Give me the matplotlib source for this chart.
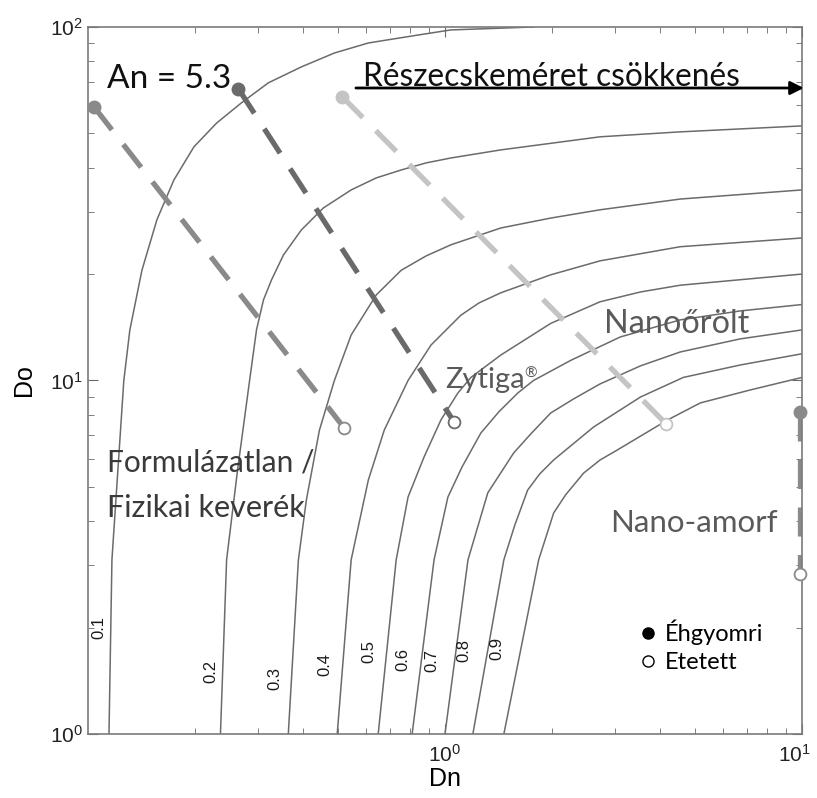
import matplotlib
matplotlib.use("Agg")
import matplotlib.pyplot as plt
import matplotlib.transforms as mtransforms
from matplotlib.lines import Line2D

plt.rcParams['font.family'] = ['Liberation Sans', 'DejaVu Sans']
plt.rcParams['mathtext.fontset'] = 'custom'
plt.rcParams['mathtext.rm'] = 'Liberation Sans'
plt.rcParams['mathtext.default'] = 'regular'

# fraction absorbed contours, An = 5.3 (Dn, Do pairs along each line)
f01_dn = [0.1145, 0.1167, 0.126, 0.131, 0.1416, 0.156, 0.174, 0.198, 0.2293, 0.269, 0.320,
          0.396, 0.490, 0.610, 0.841, 1.039, 1.345, 1.77]
f01_do = [1.0, 3.11, 10.0, 13.9, 20.5, 28.5, 36.9, 45.8, 53.5, 61.0, 69.5,
          77.1, 84.4, 90.1, 94.9, 98.1, 99.0, 100.0]

f02_dn = [0.235, 0.2445, 0.2624, 0.2836, 0.2965, 0.3101, 0.3266, 0.3528, 0.396, 0.4563, 0.546,
          0.6418, 0.754, 0.8847, 1.039, 1.433, 2.72, 4.56, 10.0]
f02_do = [1.0, 3.11, 5.58, 10.0, 13.9, 16.9, 19.25, 22.65, 26.66, 30.76, 34.6,
          37.41, 39.4, 41.25, 42.6, 44.9, 48.9, 50.5, 52.5]

f03_dn = [0.364, 0.3885, 0.409, 0.445, 0.490, 0.546, 0.642, 0.754, 0.8847, 1.039, 1.433,
          1.977, 2.72, 4.56, 10.0]
f03_do = [1.0, 3.11, 4.59, 7.24, 10.0, 13.45, 17.46, 20.5, 22.5, 24.2, 27.0,
          28.8, 30.4, 32.6, 34.6]

f04_dn = [0.499, 0.546, 0.610, 0.676, 0.788, 0.914, 1.108, 1.245, 1.433, 1.977, 2.72, 4.56, 10.0]
f04_do = [1.0, 3.11, 5.23, 7.24, 10.0, 12.6, 15.3, 16.57, 17.7, 19.9, 21.8, 23.9, 25.3]

f05_dn = [0.650, 0.730, 0.788, 0.874, 0.974, 1.087, 1.182, 1.433, 1.977, 2.72, 3.53, 4.56, 10.0]
f05_do = [1.0, 3.11, 4.68, 6.08, 7.73, 9.22, 10.2, 11.8, 14.5, 16.7, 17.8, 18.6, 20.0]

f06_dn = [0.809, 0.932, 1.019, 1.116, 1.26, 1.415, 1.60, 1.77, 2.25, 3.10, 4.56, 6.71, 10.0]
f06_do = [1.0, 3.11, 4.68, 5.69, 7.10, 8.15, 9.22, 10.0, 11.4, 13.28, 14.84, 15.73, 16.4]

f07_dn = [1.0, 1.16, 1.318, 1.558, 1.739, 1.977, 2.293, 2.72, 3.53, 4.56, 6.71, 10.0]
f07_do = [1.0, 3.11, 4.81, 6.24, 7.06, 8.09, 8.87, 9.78, 11.0, 12.04, 13.11, 13.9]

f08_dn = [1.197, 1.462, 1.569, 1.705, 1.842, 2.016, 2.61, 3.53, 4.65, 6.71, 10.0]
f08_do = [1.0, 3.11, 3.90, 4.90, 5.44, 5.96, 7.39, 8.98, 10.2, 11.06, 11.9]

f09_dn = [1.462, 1.83, 2.016, 2.178, 2.445, 2.72, 3.04, 4.20, 5.19, 7.16, 10.0]
f09_do = [1.0, 3.11, 4.22, 4.75, 5.47, 5.96, 6.36, 7.73, 8.64, 9.40, 10.2]

contour_levels = ['0.1', '0.2', '0.3', '0.4', '0.5', '0.6', '0.7', '0.8', '0.9']
label_dn = [0.107, 0.221, 0.333, 0.462, 0.614, 0.763, 0.920, 1.13, 1.40]
label_do = [2.0, 1.50, 1.44, 1.57, 1.71, 1.62, 1.61, 1.72, 1.75]

# formulations: fasted (filled) -> fed (open)
form_names = ['Formulázatlan / Fizikai keverék', 'Zytiga®', 'Nanoőrölt', 'Nano-amorf']
fasted_dn = [0.104, 0.264, 0.516, 9.9]
fasted_do = [59.4, 66.8, 63.4, 8.15]
fed_dn = [0.522, 1.06, 4.17, 9.9]
fed_do = [7.34, 7.64, 7.53, 2.84]
form_colors = ['#8a8a8a', '#6a6a6a', '#c4c4c4', '#8a8a8a']

fig = plt.figure(figsize=(8.17, 7.98), dpi=100)
ax = fig.add_axes([0.1077, 0.0802, 0.8739, 0.886])

curves = [(f01_dn, f01_do), (f02_dn, f02_do), (f03_dn, f03_do),
          (f04_dn, f04_do), (f05_dn, f05_do), (f06_dn, f06_do),
          (f07_dn, f07_do), (f08_dn, f08_do), (f09_dn, f09_do)]
for dn, do in curves:
    ax.plot(dn, do, color='#6b6b6b', lw=1.1, solid_joinstyle='round')

for lev, x, y in zip(contour_levels, label_dn, label_do):
    ax.text(x, y, lev, rotation=90, ha='center', va='center',
            fontsize=12, color='#1a1a1a')

for i in range(len(form_names)):
    ax.plot([fasted_dn[i], fed_dn[i]], [fasted_do[i], fed_do[i]],
            color=form_colors[i], lw=3.8, linestyle=(0, (5.5, 3.5)))
    ax.plot(fasted_dn[i], fasted_do[i], 'o', color=form_colors[i],
            ms=9, clip_on=False, zorder=5)
    ax.plot(fed_dn[i], fed_do[i], 'o', mfc='white', mec=form_colors[i],
            mew=1.3, ms=8.5, clip_on=False, zorder=5)

ax.set_xscale('log')
ax.set_yscale('log')
ax.set_xlim(0.1, 10)
ax.set_ylim(1, 100)
ax.set_xticks([1, 10])
ax.set_xticklabels(['$10^{0}$', '$10^{1}$'])
ax.set_yticks([1, 10, 100])
ax.set_yticklabels(['$10^{0}$', '$10^{1}$', '$10^{2}$'])

for s in ax.spines.values():
    s.set_color('#7a7a7a')
    s.set_linewidth(1.2)
ax.tick_params(which='both', direction='in', top=True, right=True,
               color='#6a6a6a', labelsize=15, labelcolor='#222222')
ax.tick_params(which='major', length=7)
ax.tick_params(which='minor', length=4)
ax.tick_params(axis='x', which='major', pad=7)

# keep the last x tick label inside the figure
last = ax.get_xticklabels()[-1]
last.set_transform(last.get_transform() +
                   mtransforms.ScaledTranslation(-8 / 100, 0, fig.dpi_scale_trans))

ax.set_xlabel('Dn', fontsize=18, labelpad=1)
ax.set_ylabel('Do', fontsize=18, labelpad=10)

txt_font = ['Lato', 'DejaVu Sans']
ax.text(0.027, 0.9137, 'An = 5.3', transform=ax.transAxes, fontsize=24,
        family=txt_font, color='#111111', va='baseline')
ax.annotate('', xy=(10.3, 67.2), xytext=(0.553, 67.2),
            arrowprops=dict(arrowstyle='-|>', color='black', lw=2,
                            mutation_scale=20),
            annotation_clip=False)
ax.text(0.385, 0.9166, 'Részecskeméret csökkenés', transform=ax.transAxes,
        fontsize=22.8, family=txt_font, color='#111111', va='baseline')
ax.text(0.723, 0.567, 'Nanoőrölt', transform=ax.transAxes, fontsize=23.3,
        family=txt_font, color='#5a5a5a', va='baseline')
ax.text(0.500, 0.489, 'Zytiga', transform=ax.transAxes, fontsize=21,
        family=txt_font, color='#5a5a5a', va='baseline')
ax.text(0.6115, 0.5035, '®', transform=ax.transAxes, fontsize=11,
        family=txt_font, color='#5a5a5a', va='baseline')
ax.text(0.0266, 0.3706, 'Formulázatlan /', transform=ax.transAxes, fontsize=21.5,
        family=txt_font, color='#3a3a3a', va='baseline')
ax.text(0.0266, 0.307, 'Fizikai keverék', transform=ax.transAxes, fontsize=22,
        family=txt_font, color='#3a3a3a', va='baseline')
ax.text(0.731, 0.2857, 'Nano-amorf', transform=ax.transAxes, fontsize=22.5,
        family=txt_font, color='#5a5a5a', va='baseline')

handles = [Line2D([], [], ls='', marker='o', color='black', ms=8),
           Line2D([], [], ls='', marker='o', mfc='white', mec='black', ms=8)]
ax.legend(handles, ['Éhgyomri', 'Etetett'], loc='upper left',
          bbox_to_anchor=(0.754, 0.175), frameon=False, handletextpad=0.25,
          labelspacing=0.3, handlelength=1.0, borderaxespad=0,
          prop={'family': txt_font, 'size': 17})

fig.savefig('out.png', dpi=100)
